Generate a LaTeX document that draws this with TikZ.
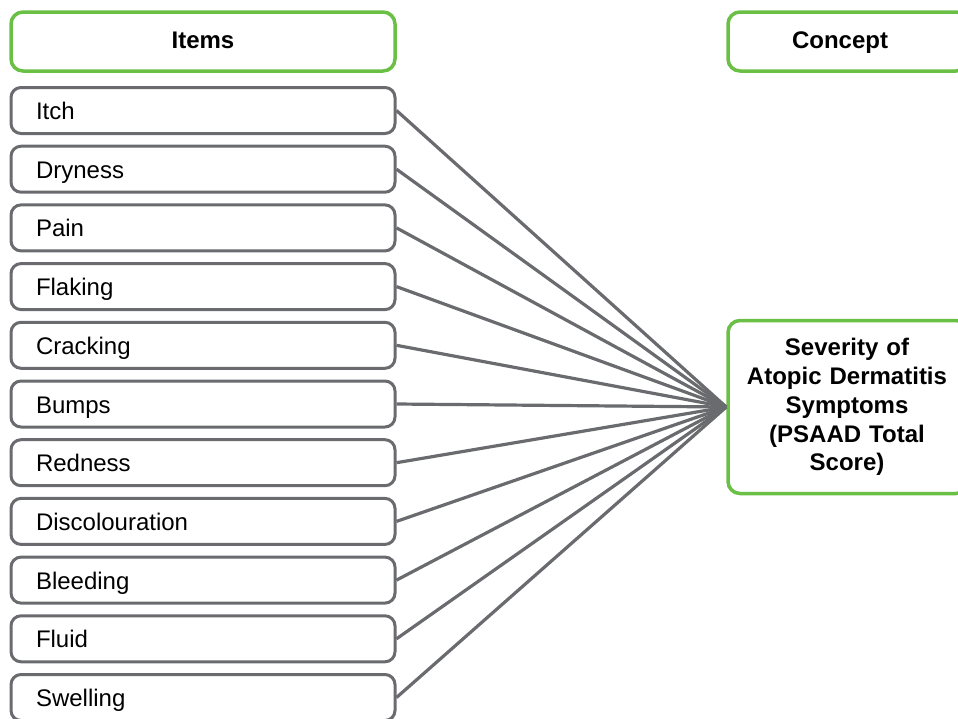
\documentclass[tikz,border=0pt]{standalone}
\usepackage{fontspec}
\setmainfont{Liberation Sans}
\definecolor{boxgray}{HTML}{6A6B6E}
\definecolor{boxgreen}{HTML}{6ABF45}
\begin{document}
\begin{tikzpicture}[x=1pt,y=-1pt,
  itembox/.style={draw=boxgray, line width=3pt, rounded corners=10pt, fill=white,
    minimum width=384pt, minimum height=46pt, text width=334pt, inner xsep=25pt,
    text height=20pt, text depth=2pt,
    align=left, font=\fontsize{24}{28}\selectfont},
  headbox/.style={draw=boxgreen, line width=3.5pt, rounded corners=12pt, fill=white,
    minimum height=59pt, font=\bfseries\fontsize{24}{28}\selectfont},
  link/.style={draw=boxgray, line width=3.2pt}]
\useasboundingbox (0,0) rectangle (958,718);
\node[headbox, minimum width=384pt, text height=17pt, text depth=3pt] (items) at (203,41.5) {Items};
\node[headbox, minimum width=240pt, text width=230pt, align=center, text height=17pt, text depth=3pt] (concept) at (848,41.5) {\hspace*{-16pt}Concept};
\node[headbox, minimum width=240pt, minimum height=173pt, text width=230pt, align=center,
  font=\bfseries\fontsize{24}{28.8}\selectfont] (c) at (848,407)
  {\hspace*{-2pt}Severity of\\\hspace*{-2pt}Atopic Dermatitis\\\hspace*{-2pt}Symptoms\\\hspace*{-2pt}(PSAAD Total\\\hspace*{-2pt}Score)};
\foreach \t [count=\i from 0] in {Itch,Dryness,Pain,Flaking,Cracking,Bumps,Redness,Discolouration,Bleeding,Fluid,Swelling}{
  \node[itembox] (n\i) at (203,{110.5+58.7*\i}) {\t};
}
\foreach \i in {0,...,10}{
  \draw[link] (n\i.east) -- (c.west);
}
\end{tikzpicture}
\end{document}
